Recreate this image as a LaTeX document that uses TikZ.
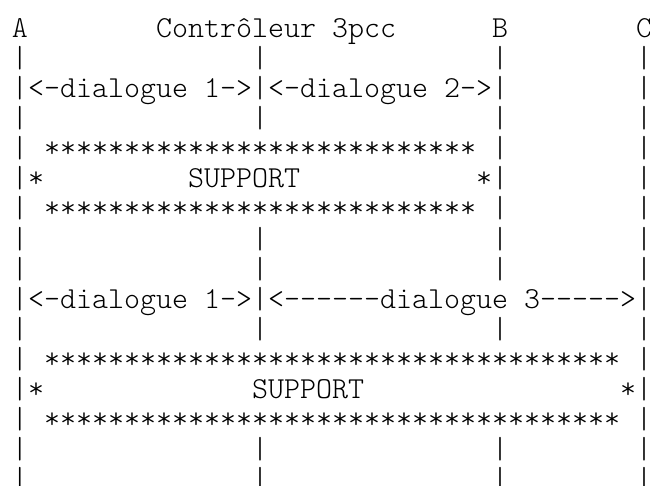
\documentclass[tikz,border=0pt]{standalone}
\usepackage{fontspec}
\setmonofont{Latin Modern Mono Light}
\tikzset{
  ch/.style={anchor=base west, inner sep=0pt, outer sep=0pt,
    font=\ttfamily\fontsize{30.48}{30}\selectfont, text=black}
}
% place text #3 at column #1, row #2 (16px per column, 30px per row)
\newcommand\putat[3]{\node[ch] (r#2c#1) at ({12+16*#1},{-(38+30*(#2-1))}) {#3};}
\newcommand\barsat[2]{\foreach \cc in {#2}{\putat{\cc}{#1}{|}}}
\begin{document}
\begin{tikzpicture}[x=1pt,y=1pt]
\useasboundingbox (0,0) rectangle (650,-486);
\clip (0,0) rectangle (650,-486);
% row 1: headers
\putat{0}{1}{A}
\putat{9}{1}{Contrôleur 3pcc}
\putat{30}{1}{B}
\putat{39}{1}{C}
% row 2
\barsat{2}{0,15,30,39}
% row 3
\putat{0}{3}{|<-dialogue 1->|<-dialogue 2->|}
\barsat{3}{39}
% row 4
\barsat{4}{0,15,30,39}
% rows 5-7: first SUPPORT box
\barsat{5}{0,30,39}
\putat{2}{5}{***************************}
\putat{0}{6}{|*}
\putat{11}{6}{SUPPORT}
\putat{29}{6}{*|}
\barsat{6}{39}
\barsat{7}{0,30,39}
\putat{2}{7}{***************************}
% rows 8-9
\barsat{8}{0,15,30,39}
\barsat{9}{0,15,30,39}
% row 10
\putat{0}{10}{|<-dialogue 1->|<------dialogue 3----->|}
% row 11
\barsat{11}{0,15,30,39}
% rows 12-14: second SUPPORT box
\barsat{12}{0,39}
\putat{2}{12}{************************************}
\putat{0}{13}{|*}
\putat{15}{13}{SUPPORT}
\putat{38}{13}{*|}
\barsat{14}{0,39}
\putat{2}{14}{************************************}
% rows 15-16
\barsat{15}{0,15,30,39}
\barsat{16}{0,15,30,39}
\end{tikzpicture}
\end{document}
